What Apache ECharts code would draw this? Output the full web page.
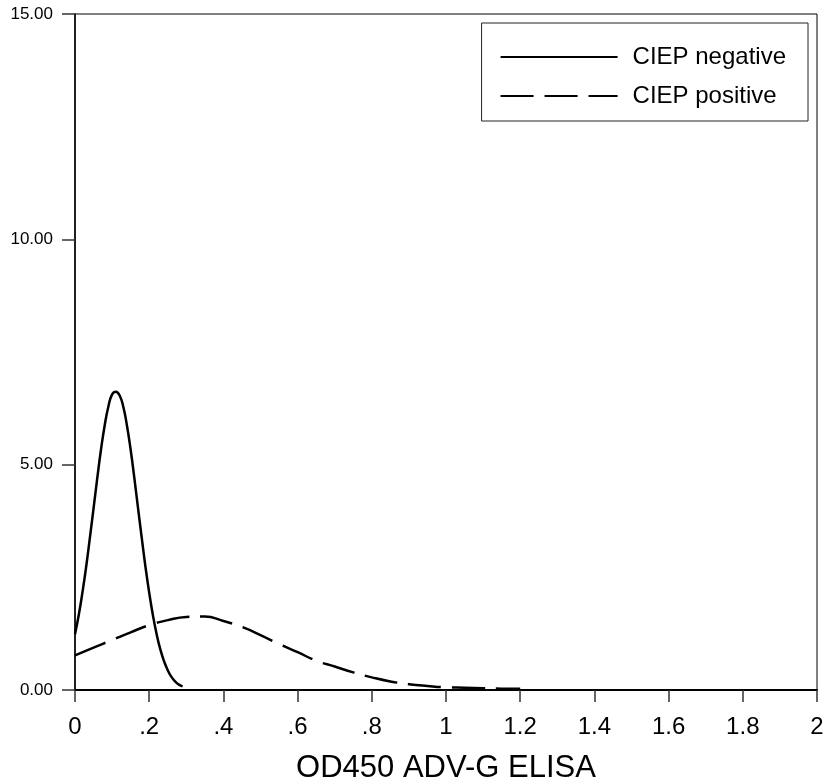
<!DOCTYPE html>
<html>
<head>
<meta charset="UTF-8">
<title>OD450 ADV-G ELISA</title>
<script src="https://cdn.jsdelivr.net/npm/echarts@6/dist/echarts.min.js"></script>
<style>
  html, body { margin: 0; padding: 0; background: #fff; }
  #main { width: 825px; height: 780px; }
</style>
</head>
<body>
<div id="main"></div>
<script type="text/javascript">
// curve values (x = OD450, y = density)
var negX = [0, 0.01, 0.02, 0.03, 0.04, 0.05, 0.06, 0.07, 0.08, 0.09, 0.10, 0.11, 0.12, 0.13, 0.14,
            0.15, 0.16, 0.17, 0.18, 0.19, 0.20, 0.21, 0.22, 0.23, 0.24, 0.25, 0.26, 0.27, 0.28, 0.29];
var negY = [1.24, 1.66, 2.16, 2.73, 3.37, 4.03, 4.70, 5.33, 5.87, 6.29, 6.56, 6.62, 6.54, 6.29, 5.87,
            5.33, 4.70, 4.03, 3.37, 2.73, 2.16, 1.66, 1.24, 0.90, 0.64, 0.44, 0.29, 0.19, 0.12, 0.08];

var posX = [0, 0.05, 0.10, 0.15, 0.20, 0.25, 0.30, 0.35, 0.40, 0.45, 0.50, 0.55, 0.60,
            0.65, 0.70, 0.75, 0.80, 0.85, 0.90, 0.95, 1.00, 1.05, 1.10, 1.15, 1.20];
var posY = [0.77, 0.94, 1.11, 1.28, 1.44, 1.55, 1.62, 1.63, 1.53, 1.40, 1.22, 1.02, 0.84,
            0.65, 0.52, 0.39, 0.28, 0.19, 0.13, 0.09, 0.06, 0.05, 0.04, 0.03, 0.03];

var seriesNames = ['CIEP negative', 'CIEP positive'];
var xTickLabels = ['0', '.2', '.4', '.6', '.8', '1', '1.2', '1.4', '1.6', '1.8', '2'];
var yTickLabels = ['0.00', '5.00', '10.00', '15.00'];

function pairs(xs, ys) {
    var out = [];
    for (var i = 0; i < xs.length; i++) out.push([xs[i], ys[i]]);
    return out;
}

var myChart = echarts.init(document.getElementById('main'));
var font = '"Liberation Sans", Arial, sans-serif';

var option = {
    animation: false,
    backgroundColor: '#fff',
    grid: {
        left: 75, right: 8, top: 14, bottom: 90,
        outerBoundsMode: 'none',
        containLabel: false,
        show: true, borderColor: '#000', borderWidth: 1
    },
    legend: {
        orient: 'vertical',
        right: 17, top: 23,
        data: seriesNames,
        backgroundColor: '#fff',
        borderColor: '#222',
        borderWidth: 1,
        padding: [22, 22, 13, 18],
        itemGap: 15,
        itemWidth: 117,
        itemHeight: 2,
        itemStyle: { opacity: 0 },
        textStyle: { fontFamily: font, fontSize: 24, color: '#000', lineHeight: 24, padding: [0, 0, 0, 10] }
    },
    xAxis: {
        type: 'value', min: 0, max: 2, interval: 0.2,
        name: 'OD450 ADV-G ELISA',
        nameLocation: 'middle',
        nameGap: 63,
        nameTextStyle: { fontFamily: font, fontSize: 31, color: '#000' },
        splitLine: { show: false },
        axisLine: { lineStyle: { color: '#000', width: 2 } },
        axisTick: { length: 12, lineStyle: { color: '#333', width: 1.5 } },
        axisLabel: {
            margin: 25, fontFamily: font, fontSize: 24, color: '#000',
            formatter: function (v) { return xTickLabels[Math.round(v / 0.2)]; }
        }
    },
    yAxis: {
        type: 'value', min: 0, max: 15, interval: 5,
        splitLine: { show: false },
        axisLine: { show: true, lineStyle: { color: '#000', width: 1.5 } },
        axisTick: { show: true, length: 13, lineStyle: { color: '#333', width: 1.5 } },
        axisLabel: {
            margin: 22, fontFamily: font, fontSize: 17, color: '#000',
            formatter: function (v) { return yTickLabels[Math.round(v / 5)]; }
        }
    },
    series: [
        {
            name: seriesNames[0], type: 'line', smooth: true,
            symbol: 'none', showSymbol: false,
            data: pairs(negX, negY),
            itemStyle: { color: '#000' },
            lineStyle: { color: '#000', width: 2.5, type: 'solid' }
        },
        {
            name: seriesNames[1], type: 'line', smooth: true,
            symbol: 'none', showSymbol: false,
            data: pairs(posX, posY),
            itemStyle: { color: '#000' },
            lineStyle: { color: '#000', width: 2.5, type: [33, 11] }
        }
    ]
};

myChart.setOption(option);
</script>
</body>
</html>
